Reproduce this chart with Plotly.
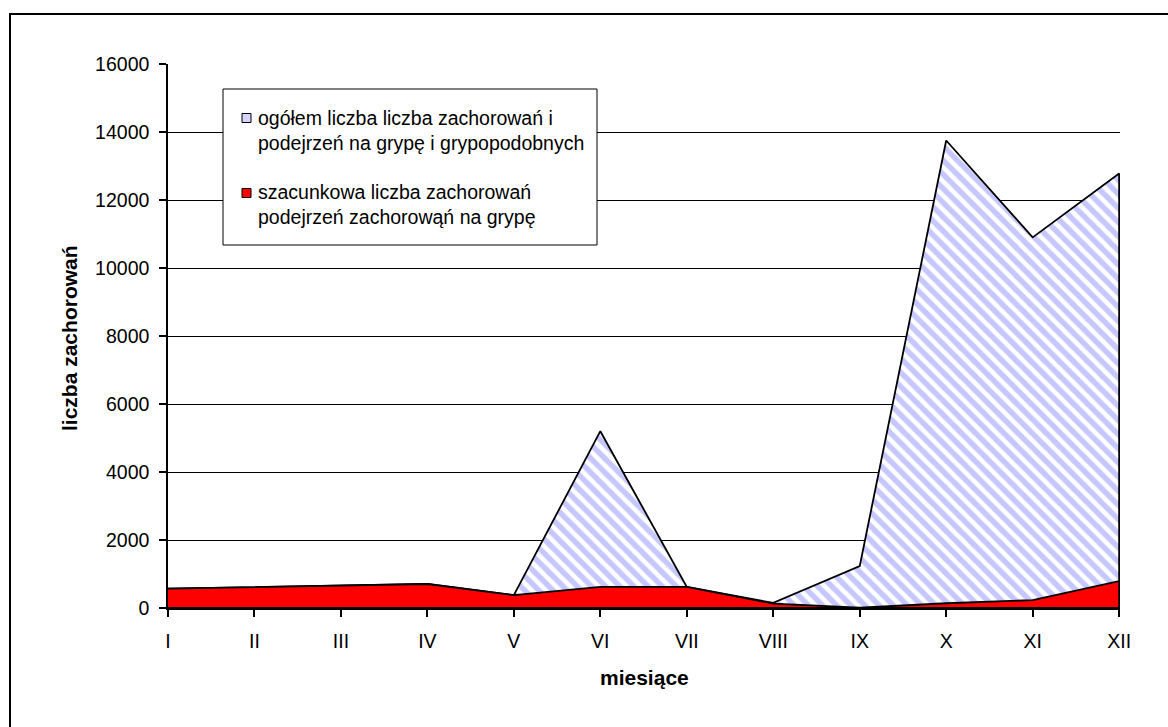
import plotly.graph_objects as go

# Monthly counts (roman numerals for months)
months = ["I", "II", "III", "IV", "V", "VI", "VII", "VIII", "IX", "X", "XI", "XII"]
total_cases = [570, 610, 670, 706, 380, 5200, 620, 150, 1230, 13750, 10900, 12780]
flu_estimate = [570, 610, 670, 706, 380, 620, 620, 130, 10, 140, 230, 790]
y_ticks = [0, 2000, 4000, 6000, 8000, 10000, 12000, 14000, 16000]

name_total = "ogółem liczba liczba zachorowań i<br>podejrzeń na grypę i grypopodobnych"
name_flu = "szacunkowa liczba zachorowań<br>podejrzeń zachorowąń na grypę"

W, H = 1168, 727
L, R, T, B = 168, 48, 64, 119
PW, PH = W - L - R, H - T - B


def px_x(p):
    return (p - L) / PW


def px_y(p):
    return (H - B - p) / PH


FONT = "Liberation Sans, Arial, sans-serif"
FS = 19.5
FS_TITLE = 21

xs = list(range(len(months)))
# closed polygons so the outline runs round the whole area
poly_x = xs + [xs[-1], xs[0]]
poly_total = total_cases + [0, 0]
poly_flu = flu_estimate + [0, 0]

fig = go.Figure()

fig.add_trace(go.Scatter(
    x=poly_x, y=poly_total, mode="lines", fill="toself",
    fillcolor="white",
    fillpattern=dict(shape="\\", fgcolor="#9090ff", bgcolor="white",
                     size=10, solidity=0.55),
    line=dict(color="black", width=1.8),
    name=name_total, showlegend=False, hoverinfo="skip",
))
fig.add_trace(go.Scatter(
    x=poly_x, y=poly_flu, mode="lines", fill="toself",
    fillcolor="#ff0000",
    line=dict(color="black", width=1.8),
    name=name_flu, showlegend=False, hoverinfo="skip",
))

# legend box drawn in pixel-based paper coordinates
legend_box = (223, 89, 597, 245)
legend_rows = [
    (name_total, "#d4d4ff", 118, 130),
    (name_flu, "#ff0000", 193, 204),
]
SQ = 9
sq_left = 242
text_left = 256

shapes = [
    # outer frame
    dict(type="rect", xref="paper", yref="paper",
         x0=px_x(10), y0=px_y(14), x1=px_x(1300), y1=px_y(800),
         line=dict(color="black", width=2), fillcolor="rgba(0,0,0,0)"),
    dict(type="rect", xref="paper", yref="paper", layer="above",
         x0=px_x(legend_box[0]), y0=px_y(legend_box[1]),
         x1=px_x(legend_box[2]), y1=px_y(legend_box[3]),
         line=dict(color="black", width=1), fillcolor="white"),
]
annotations = [
    dict(text="<b>liczba zachorowań</b>", xref="paper", yref="paper",
         x=px_x(69), y=px_y(338), textangle=-90, showarrow=False,
         xanchor="center", yanchor="middle",
         font=dict(family=FONT, size=FS_TITLE, color="black")),
    dict(text="<b>miesiące</b>", xref="paper", yref="paper",
         x=px_x(644), y=px_y(677), showarrow=False,
         xanchor="center", yanchor="middle",
         font=dict(family=FONT, size=FS_TITLE, color="black")),
]
for label, colour, sq_cy, txt_cy in legend_rows:
    shapes.append(dict(
        type="rect", xref="paper", yref="paper", layer="above",
        x0=px_x(sq_left), x1=px_x(sq_left + SQ),
        y0=px_y(sq_cy - SQ / 2), y1=px_y(sq_cy + SQ / 2),
        line=dict(color="black", width=1), fillcolor=colour))
    annotations.append(dict(
        text=label, xref="paper", yref="paper",
        x=px_x(text_left), y=px_y(txt_cy), showarrow=False,
        xanchor="left", yanchor="middle", align="left",
        font=dict(family=FONT, size=FS, color="black")))

fig.update_layout(
    width=W, height=H,
    margin=dict(l=L, r=R, t=T, b=B, pad=0),
    paper_bgcolor="white", plot_bgcolor="white",
    font=dict(family=FONT, size=FS, color="black"),
    showlegend=False,
    xaxis=dict(
        range=[0, 11.01], tickmode="array", tickvals=xs, ticktext=months,
        showgrid=False, zeroline=False,
        showline=True, linecolor="black", linewidth=1.5,
        ticks="outside", ticklen=7, tickwidth=1.5, tickcolor="black",
        tickfont=dict(family=FONT, size=FS, color="black"),
        ticklabelstandoff=8,
    ),
    yaxis=dict(
        range=[0, 16000], tickmode="array", tickvals=y_ticks,
        ticktext=[str(v) for v in y_ticks],
        showgrid=True, gridcolor="black", gridwidth=1.3,
        zeroline=False,
        showline=True, linecolor="black", linewidth=1.5,
        ticks="outside", ticklen=7, tickwidth=1.5, tickcolor="black",
        tickfont=dict(family=FONT, size=FS, color="black"),
        ticklabelstandoff=6,
    ),
    annotations=annotations,
    shapes=shapes,
)

# keep the page free of scrollbars
fig.write_html(
    "out.html",
    post_script="document.documentElement.style.overflow='hidden';"
                "document.body.style.margin='0';"
                "document.body.style.overflow='hidden';",
)
